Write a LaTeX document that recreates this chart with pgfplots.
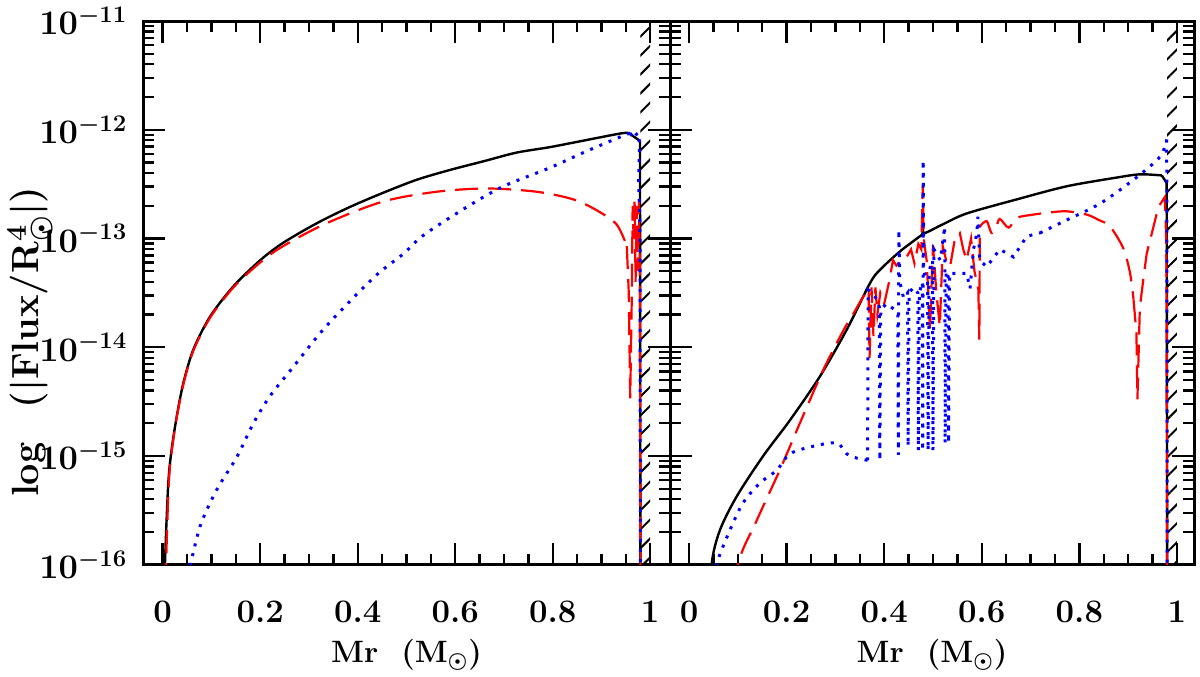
\documentclass[border=0pt]{standalone}
\usepackage{pgfplots}
\usepackage{pgfplotstable}
\pgfplotsset{compat=1.18}
\usetikzlibrary{patterns.meta}

\pgfplotstableread{
x l
0.0035 -16.5
0.0047 -15.99
0.0115 -15.25
0.0184 -14.94
0.0287 -14.64
0.0423 -14.33
0.063 -14.02
0.097 -13.72
0.145 -13.44
0.2 -13.2
0.247 -13.04
0.316 -12.86
0.384 -12.71
0.452 -12.58
0.521 -12.46
0.589 -12.37
0.658 -12.29
0.726 -12.21
0.794 -12.16
0.863 -12.10
0.945 -12.03
0.959 -12.04
0.975 -12.09
0.979 -12.11
0.980 -16.5
}\tabLblack

\pgfplotstableread{
x l
0.0055 -16.5
0.007 -15.99
0.0125 -15.25
0.019 -14.94
0.029 -14.64
0.043 -14.33
0.063 -14.03
0.097 -13.73
0.145 -13.45
0.2 -13.22
0.247 -13.07
0.336 -12.86
0.452 -12.66
0.562 -12.57
0.665 -12.54
0.767 -12.57
0.842 -12.64
0.89 -12.74
0.931 -12.87
0.952 -13.07
0.956 -13.5
0.959 -14.47
0.962 -13.6
0.964 -12.7
0.966 -13.0
0.968 -12.66
0.970 -13.4
0.972 -12.7
0.975 -13.3
0.977 -12.65
0.979 -13.4
0.980 -16.5
}\tabLred

\pgfplotstableread{
x l
0.052 -16.1
0.0765 -15.65
0.111 -15.31
0.152 -15.01
0.186 -14.70
0.22 -14.45
0.268 -14.18
0.323 -13.87
0.377 -13.61
0.44 -13.33
0.494 -13.14
0.535 -12.97
0.624 -12.71
0.699 -12.52
0.794 -12.35
0.863 -12.21
0.931 -12.08
0.959 -12.03
0.965 -12.08
0.972 -12.04
0.976 -12.03
0.978 -12.12
0.976 -12.49
0.979 -12.8
0.980 -16.5
}\tabLblue

\pgfplotstableread{
x l
0.044 -16.5
0.0465 -15.99
0.0635 -15.68
0.098 -15.37
0.152 -15.0
0.207 -14.67
0.268 -14.27
0.323 -13.84
0.371 -13.41
0.391 -13.29
0.432 -13.12
0.47 -12.99
0.478 -12.96
0.480 -12.88
0.482 -12.95
0.52 -12.87
0.569 -12.77
0.672 -12.64
0.774 -12.52
0.876 -12.44
0.924 -12.41
0.969 -12.42
0.979 -12.49
0.980 -16.5
}\tabRblack

\pgfplotstableread{
x l
0.099 -16.5
0.101 -15.99
0.139 -15.59
0.186 -15.13
0.227 -14.70
0.275 -14.21
0.317 -13.84
0.337 -13.69
0.355 -13.55
0.368 -13.47
0.370 -14.1
0.374 -13.45
0.378 -13.9
0.382 -13.45
0.386 -13.7
0.392 -13.5
0.40 -13.6
0.41 -13.4
0.418 -13.2
0.425 -13.25
0.435 -13.2
0.446 -13.17
0.455 -13.1
0.462 -13.23
0.47 -13.05
0.476 -13.1
0.479 -12.52
0.481 -13.0
0.487 -13.2
0.494 -13.84
0.5 -13.06
0.507 -13.5
0.514 -13.81
0.52 -13.07
0.527 -13.2
0.535 -13.26
0.545 -13.0
0.555 -12.95
0.562 -13.1
0.569 -13.2
0.578 -13.0
0.585 -13.3
0.593 -13.47
0.595 -13.93
0.596 -12.89
0.61 -12.84
0.62 -12.95
0.63 -12.89
0.637 -12.82
0.655 -12.9
0.672 -12.81
0.706 -12.78
0.74 -12.76
0.774 -12.75
0.815 -12.78
0.84 -12.83
0.863 -12.89
0.89 -13.09
0.904 -13.32
0.911 -13.56
0.917 -13.87
0.919 -14.48
0.924 -13.63
0.931 -13.38
0.938 -13.14
0.952 -12.89
0.962 -12.71
0.975 -12.62
0.978 -13.0
0.979 -13.6
0.980 -16.5
}\tabRred

\pgfplotstableread{
x l
0.055 -16.2
0.057 -15.99
0.084 -15.68
0.111 -15.43
0.145 -15.25
0.18 -15.13
0.207 -14.98
0.255 -14.91
0.303 -14.88
0.323 -14.98
0.344 -15.02
0.366 -15.04
0.367 -13.47
0.375 -13.5
0.385 -13.56
0.390 -13.63
0.391 -15.04
0.393 -13.65
0.405 -13.6
0.42 -13.65
0.428 -13.7
0.429 -14.99
0.430 -12.92
0.432 -13.4
0.44 -13.55
0.448 -13.5
0.449 -14.91
0.451 -13.5
0.46 -13.45
0.469 -13.5
0.470 -14.95
0.472 -13.5
0.478 -13.4
0.479 -14.95
0.480 -12.28
0.481 -13.3
0.489 -13.4
0.490 -14.95
0.492 -13.3
0.499 -13.2
0.500 -14.95
0.502 -13.1
0.515 -13.2
0.524 -12.89
0.525 -14.88
0.527 -13.3
0.531 -13.35
0.532 -14.88
0.534 -13.32
0.549 -13.32
0.569 -13.32
0.576 -13.46
0.583 -13.1
0.59 -12.95
0.592 -12.8
0.596 -13.2
0.61 -13.26
0.637 -13.1
0.665 -13.17
0.692 -12.98
0.719 -12.95
0.774 -12.83
0.842 -12.68
0.911 -12.46
0.965 -12.25
0.979 -12.09
0.9795 -13.0
0.980 -16.5
}\tabRblue

\begin{document}
\begin{tikzpicture}
\useasboundingbox (0,0) rectangle (600bp,338.5bp);
\begin{axis}[
  at={(71.5bp,56.15bp)}, anchor=south west,
  scale only axis,
  width=263.5bp, height=271.85bp,
  xmin=-0.0404, xmax=1.0406,
  ymode=log, ymin=1e-16, ymax=1e-11,
  ytick={1e-16,1e-15,1e-14,1e-13,1e-12,1e-11},
  xtick={0,0.2,0.4,0.6,0.8,1},
  xticklabels={0,0.2,0.4,0.6,0.8,1},
  minor x tick num=3,
  tick align=inside,
  axis line style={line width=1.5bp},
  every tick/.append style={black, line width=1.2bp},
  major tick length=11bp,
  minor tick length=5.5bp,
  tick label style={font=\fontsize{16.5}{20}\selectfont\bfseries\boldmath},
  label style={font=\fontsize{15.5}{20}\selectfont\bfseries\boldmath},
  xticklabel style={anchor=base, yshift=-29bp},
  yticklabel style={xshift=-4.3bp},
  xlabel={Mr\ \ (M$_\odot$)},
  xlabel style={at={(axis description cs:0.5,0)}, anchor=base, yshift=-49bp},
  ylabel={log\hspace{0.9em}(|Flux/R$^4_\odot$|)},
  ylabel style={at={(axis description cs:-0.2144,0.41)}, anchor=center, font=\fontsize{19}{22}\selectfont\bfseries\boldmath},
]
\fill[pattern={Lines[angle=45,distance=6.7bp,line width=1bp]}] (axis cs:0.98,1e-16) rectangle (axis cs:1.0,1e-11);
\addplot[black, line width=1.2bp, mark=none, smooth, tension=0.5, restrict x to domain=0:0.9595] table[x=x, y expr={10^(\thisrow{l})}] {\tabLblack};
\addplot[black, line width=1.2bp, mark=none, restrict x to domain=0.958:1] table[x=x, y expr={10^(\thisrow{l})}] {\tabLblack};
\addplot[red, line width=1.1bp, dash pattern=on 11.5bp off 5bp, mark=none, smooth, tension=0.5, restrict x to domain=0:0.9525] table[x=x, y expr={10^(\thisrow{l})}] {\tabLred};
\addplot[red, line width=1.1bp, dash pattern=on 11.5bp off 5bp, mark=none, restrict x to domain=0.951:1] table[x=x, y expr={10^(\thisrow{l})}] {\tabLred};
\addplot[blue, line width=1.5bp, dash pattern=on 1.5bp off 3.5bp, mark=none, smooth, tension=0.5, restrict x to domain=0:0.9595] table[x=x, y expr={10^(\thisrow{l})}] {\tabLblue};
\addplot[blue, line width=1.5bp, dash pattern=on 1.5bp off 3.5bp, mark=none, restrict x to domain=0.958:1] table[x=x, y expr={10^(\thisrow{l})}] {\tabLblue};
\end{axis}
\begin{axis}[
  at={(335bp,56.15bp)}, anchor=south west,
  scale only axis,
  width=262bp, height=271.85bp,
  xmin=-0.039, xmax=1.035,
  ymode=log, ymin=1e-16, ymax=1e-11,
  ytick={1e-16,1e-15,1e-14,1e-13,1e-12,1e-11},
  yticklabels={},
  xtick={0,0.2,0.4,0.6,0.8,1},
  xticklabels={0,0.2,0.4,0.6,0.8,1},
  minor x tick num=3,
  tick align=inside,
  axis line style={line width=1.5bp},
  every tick/.append style={black, line width=1.2bp},
  major tick length=11bp,
  minor tick length=5.5bp,
  tick label style={font=\fontsize{16.5}{20}\selectfont\bfseries\boldmath},
  label style={font=\fontsize{15.5}{20}\selectfont\bfseries\boldmath},
  xticklabel style={anchor=base, yshift=-29bp},
  xlabel={Mr\ \ (M$_\odot$)},
  xlabel style={at={(axis description cs:0.5,0)}, anchor=base, yshift=-49bp},
]
\fill[pattern={Lines[angle=45,distance=6.7bp,line width=1bp]}] (axis cs:0.98,1e-16) rectangle (axis cs:1.0,1e-11);
\addplot[black, line width=1.2bp, mark=none, smooth, tension=0.5, restrict x to domain=0:0.9695] table[x=x, y expr={10^(\thisrow{l})}] {\tabRblack};
\addplot[black, line width=1.2bp, mark=none, restrict x to domain=0.968:1] table[x=x, y expr={10^(\thisrow{l})}] {\tabRblack};
\addplot[red, line width=1.1bp, dash pattern=on 11.5bp off 5bp, mark=none, smooth, tension=0.5, restrict x to domain=0:0.3685] table[x=x, y expr={10^(\thisrow{l})}] {\tabRred};
\addplot[red, line width=1.1bp, dash pattern=on 11.5bp off 5bp, mark=none, restrict x to domain=0.3675:0.5965] table[x=x, y expr={10^(\thisrow{l})}] {\tabRred};
\addplot[red, line width=1.1bp, dash pattern=on 11.5bp off 5bp, mark=none, smooth, tension=0.5, restrict x to domain=0.5955:0.9115] table[x=x, y expr={10^(\thisrow{l})}] {\tabRred};
\addplot[red, line width=1.1bp, dash pattern=on 11.5bp off 5bp, mark=none, restrict x to domain=0.9105:1] table[x=x, y expr={10^(\thisrow{l})}] {\tabRred};
\addplot[blue, line width=1.5bp, dash pattern=on 1.5bp off 3.5bp, mark=none, smooth, tension=0.5, restrict x to domain=0:0.3665] table[x=x, y expr={10^(\thisrow{l})}] {\tabRblue};
\addplot[blue, line width=1.5bp, dash pattern=on 1.5bp off 3.5bp, mark=none, restrict x to domain=0.3655:0.7195] table[x=x, y expr={10^(\thisrow{l})}] {\tabRblue};
\addplot[blue, line width=1.5bp, dash pattern=on 1.5bp off 3.5bp, mark=none, smooth, tension=0.5, restrict x to domain=0.7185:0.9792] table[x=x, y expr={10^(\thisrow{l})}] {\tabRblue};
\addplot[blue, line width=1.5bp, dash pattern=on 1.5bp off 3.5bp, mark=none, restrict x to domain=0.9785:1] table[x=x, y expr={10^(\thisrow{l})}] {\tabRblue};
\end{axis}
\end{tikzpicture}
\end{document}
